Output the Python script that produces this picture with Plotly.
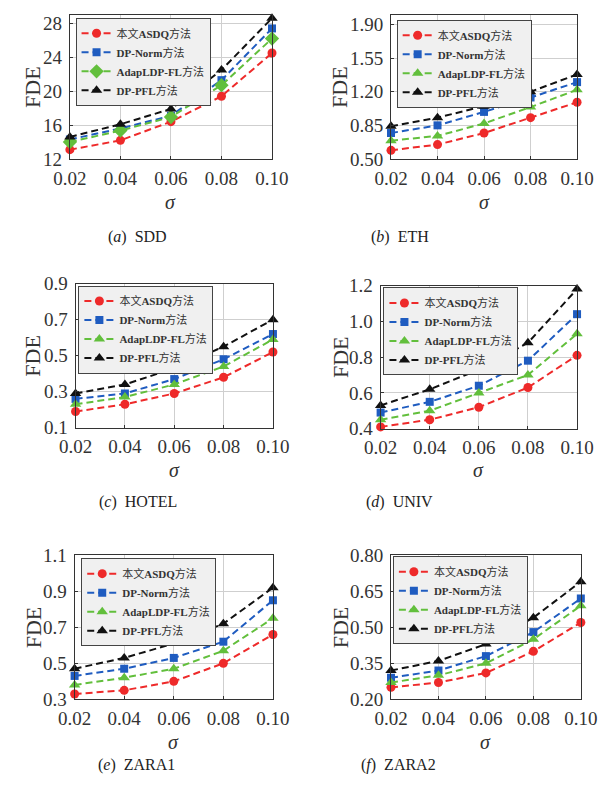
import plotly.graph_objects as go

W, H = 612, 797

sigma = [0.02, 0.04, 0.06, 0.08, 0.10]
sigma_ticks = ["0.02", "0.04", "0.06", "0.08", "0.10"]
method_names = ["本文<b>ASDQ</b>方法", "<b>DP-Norm</b>方法", "<b>AdapLDP-FL</b>方法", "<b>DP-PFL</b>方法"]

# (a) SDD
sdd_asdq = [13.1, 14.2, 16.4, 19.4, 24.5]
sdd_norm = [14.3, 15.6, 17.1, 21.3, 27.4]
sdd_adap = [14.0, 15.35, 16.95, 20.7, 26.2]
sdd_pfl = [14.6, 16.1, 17.9, 22.5, 28.6]
# (b) ETH
eth_asdq = [0.59, 0.65, 0.77, 0.93, 1.09]
eth_norm = [0.77, 0.85, 0.99, 1.14, 1.30]
eth_adap = [0.69, 0.74, 0.87, 1.04, 1.22]
eth_pfl = [0.84, 0.93, 1.05, 1.20, 1.38]
# (c) HOTEL
hotel_asdq = [0.19, 0.23, 0.29, 0.38, 0.52]
hotel_norm = [0.26, 0.29, 0.37, 0.48, 0.62]
hotel_adap = [0.23, 0.27, 0.34, 0.44, 0.59]
hotel_pfl = [0.29, 0.34, 0.43, 0.55, 0.70]
# (d) UNIV
univ_asdq = [0.41, 0.45, 0.52, 0.63, 0.81]
univ_norm = [0.49, 0.55, 0.64, 0.78, 1.04]
univ_adap = [0.45, 0.50, 0.60, 0.70, 0.93]
univ_pfl = [0.53, 0.62, 0.73, 0.88, 1.18]
# (e) ZARA1
zara1_asdq = [0.33, 0.35, 0.40, 0.50, 0.66]
zara1_norm = [0.43, 0.47, 0.53, 0.62, 0.85]
zara1_adap = [0.38, 0.42, 0.47, 0.57, 0.75]
zara1_pfl = [0.47, 0.53, 0.61, 0.72, 0.92]
# (f) ZARA2
zara2_asdq = [0.25, 0.27, 0.31, 0.40, 0.52]
zara2_norm = [0.29, 0.32, 0.38, 0.48, 0.62]
zara2_adap = [0.27, 0.30, 0.35, 0.45, 0.59]
zara2_pfl = [0.32, 0.36, 0.43, 0.54, 0.69]

captions = ["(<i>a</i>)  SDD", "(<i>b</i>)  ETH", "(<i>c</i>)  HOTEL",
            "(<i>d</i>)  UNIV", "(<i>e</i>)  ZARA1", "(<i>f</i>)  ZARA2"]

y_ranges = [[12, 29], [0.5, 2.0], [0.1, 0.9], [0.4, 1.2], [0.3, 1.1], [0.2, 0.8]]
y_tickvals = [[12, 16, 20, 24, 28], [0.5, 0.85, 1.2, 1.55, 1.9], [0.1, 0.3, 0.5, 0.7, 0.9],
              [0.4, 0.6, 0.8, 1.0, 1.2], [0.3, 0.5, 0.7, 0.9, 1.1], [0.2, 0.35, 0.5, 0.65, 0.8]]
y_formats = ["d", ".2f", ".1f", ".1f", ".1f", ".2f"]

datasets = [
    [sdd_asdq, sdd_norm, sdd_adap, sdd_pfl],
    [eth_asdq, eth_norm, eth_adap, eth_pfl],
    [hotel_asdq, hotel_norm, hotel_adap, hotel_pfl],
    [univ_asdq, univ_norm, univ_adap, univ_pfl],
    [zara1_asdq, zara1_norm, zara1_adap, zara1_pfl],
    [zara2_asdq, zara2_norm, zara2_adap, zara2_pfl],
]

# layout geometry (pixels): plot boxes, legend corners, caption rows
boxes = [(56, 270, 5, 153), (396, 593, 5, 153),
         (62, 271, 281, 429), (385, 593, 283, 430),
         (61, 271, 560, 708), (396, 597, 560, 708)]
legend_pos = [(62, 8), (402, 10), (65, 283), (388, 285), (68, 563), (398, 561)]
fde_x = [17, 342, 17, 342, 17, 342]
sigma_y = [197, 197, 472, 472, 752, 752]
caption_pos = [(128, 233), (405, 233), (128, 505), (405, 505), (126, 775), (404, 775)]

colors = ["#ee2a2a", "#1f5cc0", "#62bf3c", "#111111"]
symbols_default = ["circle", "square", "triangle-up", "triangle-up"]
sizes = [9, 8, 10, 10]

SERIF = "Liberation Serif"
LEG_FONT = "Liberation Serif, Noto Sans CJK SC"
TXT = "#333333"

fig = go.Figure()

for i, series in enumerate(datasets):
    xa = "x" if i == 0 else f"x{i+1}"
    ya = "y" if i == 0 else f"y{i+1}"
    lg = "legend" if i == 0 else f"legend{i+1}"
    for k, vals in enumerate(series):
        sym = symbols_default[k]
        if i == 0 and k == 2:
            sym = "diamond"
        fig.add_trace(go.Scatter(
            x=sigma, y=vals, mode="lines+markers", name=method_names[k],
            xaxis=xa, yaxis=ya, legend=lg, cliponaxis=False,
            line=dict(color=colors[k], width=2, dash="7px,4px"),
            marker=dict(color=colors[k], symbol=sym, size=sizes[k] + (1 if sym == "diamond" else 0),
                        line=dict(width=0)),
        ))

layout = dict(width=W, height=H, margin=dict(l=0, r=0, t=0, b=0),
              paper_bgcolor="white", plot_bgcolor="white", showlegend=True)

annotations = []
for i, (x0, x1, y0, y1) in enumerate(boxes):
    xk = "xaxis" if i == 0 else f"xaxis{i+1}"
    yk = "yaxis" if i == 0 else f"yaxis{i+1}"
    xa = "x" if i == 0 else f"x{i+1}"
    ya = "y" if i == 0 else f"y{i+1}"
    layout[xk] = dict(domain=[x0 / W, x1 / W], anchor=ya, range=[0.02, 0.10],
                      tickvals=sigma, ticktext=sigma_ticks, showgrid=True, gridcolor="#cfcfcf",
                      gridwidth=1, showline=True, mirror=True, linecolor="#333333", linewidth=1,
                      ticks="inside", ticklen=3, tickcolor="#333333", zeroline=False,
                      tickfont=dict(family=SERIF, size=19, color=TXT), ticklabelstandoff=2)
    layout[yk] = dict(domain=[1 - y1 / H, 1 - y0 / H], anchor=xa, range=y_ranges[i],
                      tickvals=y_tickvals[i], tickformat=y_formats[i], showgrid=True,
                      gridcolor="#cfcfcf", gridwidth=1, showline=True, mirror=True,
                      linecolor="#333333", linewidth=1, ticks="inside", ticklen=3,
                      tickcolor="#333333", zeroline=False,
                      tickfont=dict(family=SERIF, size=19, color=TXT), ticklabelstandoff=3)
    lk = "legend" if i == 0 else f"legend{i+1}"
    lx, ly = legend_pos[i]
    layout[lk] = dict(x=lx / W, y=1 - ly / H, xanchor="left", yanchor="top",
                      xref="paper", yref="paper", bgcolor="#f0f0f0", bordercolor="#444444",
                      borderwidth=1, font=dict(family=LEG_FONT, size=11, color=TXT),
                      itemwidth=30, tracegroupgap=0)
    annotations.append(dict(text="FDE", x=fde_x[i] / W, y=1 - (y0 + y1) / 2 / H, xref="paper",
                            yref="paper", showarrow=False, textangle=-90,
                            xanchor="center", yanchor="middle",
                            font=dict(family=SERIF, size=22, color=TXT)))
    annotations.append(dict(text="<i>σ</i>", x=(x0 + x1) / 2 / W, y=1 - sigma_y[i] / H,
                            xref="paper", yref="paper", showarrow=False,
                            xanchor="center", yanchor="middle",
                            font=dict(family=SERIF, size=20, color=TXT)))
    cx, cy = caption_pos[i]
    annotations.append(dict(text=captions[i], x=cx / W, y=1 - cy / H, xref="paper",
                            yref="paper", showarrow=False, xanchor="center", yanchor="middle",
                            font=dict(family=SERIF, size=16, color="#222222")))

layout["annotations"] = annotations
fig.update_layout(**layout)
fig.write_html("out.html")
